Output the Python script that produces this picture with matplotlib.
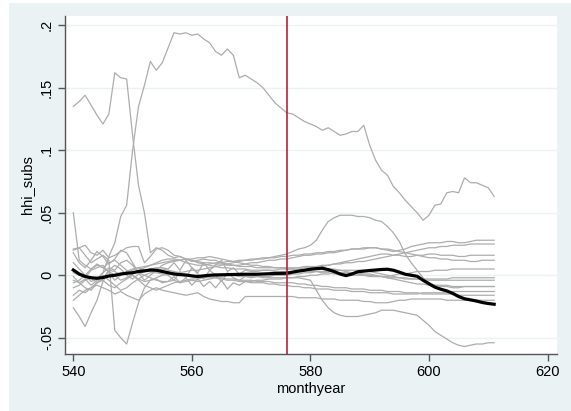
import numpy as np
import matplotlib
matplotlib.use("Agg")
import matplotlib.pyplot as plt
from matplotlib.patches import Rectangle

plt.rcParams['font.family'] = ['Liberation Sans', 'DejaVu Sans']

months = np.arange(540, 612)  # monthyear 540..611

# hhi_subs by group, one list per series (12 months per row)
s_a = [.135, .139, .144, .136, .128, .121, .129, .162, .158, .157, .112, .072,
       .050, .018, .022, .020, .016, .014, .015, .013, .011, .012, .013, .012,
       .012, .010, .009, .008, .008, .009, .010, .010, .011, .012, .012, .013,
       .013, .014, .015, .016, .016, .017, .017, .018, .018, .019, .020, .021,
       .021, .021, .022, .022, .021, .021, .020, .019, .018, .017, .016, .015,
       .014, .014, .013, .013, .012, .012, .012, .011, .011, .012, .012, .012]
s_b = [-.004, -.006, -.003, -.008, -.004, .002, .015, .026, .047, .056, .100, .135,
       .152, .171, .164, .170, .182, .194, .193, .194, .192, .193, .189, .186,
       .179, .176, .181, .176, .158, .160, .157, .154, .150, .144, .138, .134,
       .130, .129, .126, .123, .121, .119, .116, .118, .115, .112, .113, .115,
       .115, .120, .104, .092, .084, .080, .071, .066, .060, .055, .050, .044,
       .048, .056, .057, .066, .067, .066, .078, .074, .074, .072, .070, .063]
s_c = [.050, .012, .008, .005, .009, .006, .003, .000, -.004, -.002, .001, .004,
       .006, .008, .010, .012, .013, .013, .012, .010, .009, .008, .008, .009,
       .010, .010, .011, .011, .012, .012, .012, .013, .013, .014, .014, .015,
       .015, .016, .016, .017, .017, .018, .018, .019, .019, .020, .020, .021,
       .021, .022, .022, .022, .021, .020, .019, .020, .021, .023, .024, .025,
       .026, .026, .026, .027, .027, .026, .026, .027, .028, .028, .028, .028]
s_d = [.020, .022, .016, .010, .013, .016, .012, -.044, -.050, -.055, -.038, -.022,
       -.010, -.004, -.003, -.006, -.005, -.004, -.006, -.005, -.004, -.005, -.004, -.003,
       -.002, -.003, -.004, -.004, -.005, -.005, -.006, -.006, -.006, -.007, -.007, -.008,
       -.008, -.009, -.009, -.010, -.010, -.011, -.011, -.011, -.012, -.012, -.012, -.013,
       -.013, -.013, -.014, -.014, -.014, -.014, -.015, -.015, -.015, -.015, -.015, -.014,
       -.014, -.014, -.014, -.014, -.013, -.013, -.013, -.013, -.013, -.013, -.013, -.013]
s_e = [-.026, -.033, -.041, -.030, -.020, -.005, .004, .003, .000, .002, .004, .006,
       .007, .008, .009, .010, .011, .012, .012, .013, .013, .014, .014, .015,
       .014, .013, .012, .011, .010, .009, .008, .008, .007, .007, .006, .006,
       .005, .005, .004, .004, .003, .003, .002, .002, .001, .001, .001, .000,
       .000, .000, -.001, -.001, -.001, -.002, -.002, -.002, -.003, -.003, -.003, -.003,
       -.003, -.003, -.003, -.003, -.002, -.002, -.002, -.002, -.002, -.002, -.002, -.002]
s_f = [.002, .000, -.002, .004, .006, .008, .002, -.004, .000, .003, .005, .006,
       .004, .003, .004, .005, .004, .003, .002, .003, .004, .004, .005, .006,
       .007, .008, .009, .010, .011, .012, .013, .013, .014, .014, .015, .016,
       .017, .019, .021, .022, .024, .028, .036, .043, .046, .048, .048, .048,
       .047, .047, .046, .044, .043, .039, .034, .027, .017, .010, .004, -.002,
       -.006, -.008, -.009, -.009, -.010, -.010, -.009, -.009, -.009, -.009, -.009, -.009]
s_g = [-.006, -.004, .000, .005, .008, .006, .010, .012, .008, .004, .000, -.003,
       -.005, -.004, -.002, .000, .001, .002, .001, .000, -.001, -.002, -.001, .000,
       .001, .001, .000, .000, -.001, -.001, -.001, -.001, -.002, -.002, -.002, -.002,
       -.002, -.002, -.002, -.003, -.004, -.012, -.020, -.026, -.030, -.032, -.033, -.033,
       -.033, -.032, -.031, -.030, -.028, -.028, -.028, -.029, -.030, -.031, -.032, -.036,
       -.040, -.045, -.048, -.051, -.054, -.056, -.057, -.056, -.055, -.055, -.054, -.054]
s_h = [-.020, -.016, -.012, -.010, -.008, -.010, -.012, -.015, -.013, -.016, -.018, -.020,
       -.015, -.012, -.010, -.012, -.013, -.014, -.015, -.016, -.015, -.014, -.017, -.019,
       -.020, -.021, -.021, -.022, -.022, -.017, -.017, -.017, -.017, -.017, -.017, -.017,
       -.017, -.017, -.018, -.018, -.018, -.018, -.019, -.019, -.019, -.020, -.020, -.020,
       -.020, -.021, -.021, -.022, -.022, -.022, -.021, -.020, -.020, -.019, -.019, -.019,
       -.019, -.019, -.019, -.020, -.020, -.020, -.020, -.020, -.020, -.020, -.020, -.020]
s_i = [.021, .022, .024, .018, .016, .020, .014, .016, .019, .022, .023, .023,
       .010, .015, .021, .022, .020, .016, .015, .013, .012, .010, .009, .008,
       .007, .006, .006, .005, .005, .005, .004, .004, .004, .004, .003, .003,
       .003, .003, .003, .004, .005, .006, .007, .008, .009, .010, .011, .012,
       .013, .014, .015, .016, .017, .017, .016, .016, .015, .015, .016, .016,
       .017, .017, .016, .016, .016, .015, .015, .016, .016, .016, .016, .016]
s_j = [.018, .010, .006, .012, .019, .015, .009, .013, .020, .018, .010, .002,
       -.004, .000, .004, .008, .010, .011, .012, .013, .012, .011, .010, .010,
       .009, .009, .008, .008, .007, .007, .007, .006, .006, .006, .006, .006,
       .006, .006, .006, .007, .007, .007, .008, .008, .009, .009, .010, .010,
       .011, .011, .012, .013, .014, .015, .016, .017, .018, .019, .020, .021,
       .022, .022, .023, .023, .024, .024, .024, .025, .025, .025, .025, .025]
s_k = [-.016, -.012, -.014, -.010, -.006, -.004, -.008, -.010, -.006, -.003, .000, -.004,
       -.008, -.010, -.012, -.010, -.008, -.006, -.005, -.004, -.003, -.003, -.002, -.002,
       -.002, -.002, -.003, -.003, -.004, -.004, -.004, -.005, -.005, -.005, -.006, -.006,
       -.006, -.006, -.007, -.007, -.008, -.008, -.009, -.009, -.010, -.010, -.010, -.011,
       -.011, -.011, -.012, -.012, -.012, -.013, -.013, -.013, -.014, -.014, -.014, -.015,
       -.015, -.015, -.015, -.015, -.015, -.016, -.016, -.016, -.016, -.016, -.016, -.016]
s_l = [-.010, -.008, -.004, -.002, -.006, -.003, .004, .008, .005, .000, -.003, .001,
       .003, .005, .006, .006, .005, .010, .004, .012, .006, .002, .010, .004,
       .008, .012, .003, .006, .001, .004, .003, .003, .004, .004, .004, .005,
       .005, .005, .005, .006, .006, .006, .006, .005, .005, .004, .003, .002,
       .001, .000, .000, -.001, -.001, -.001, .000, .001, .001, .002, .003, .003,
       .003, .004, .004, .004, .005, .005, .005, .005, .005, .005, .005, .005]
s_m = [.010, .005, .000, -.005, -.003, .002, .006, .004, .010, .012, .008, .002,
       .000, -.002, -.004, -.005, -.005, -.001, -.006, -.002, -.008, -.003, -.009, -.005,
       -.010, -.004, -.011, -.006, -.008, -.005, -.005, -.004, -.004, -.003, -.003, -.003,
       -.002, -.002, -.001, -.001, .000, .000, .001, .001, .002, .002, .002, .002,
       .002, .001, .001, .000, -.001, -.002, -.003, -.004, -.005, -.006, -.007, -.007,
       -.008, -.008, -.008, -.008, -.009, -.009, -.009, -.009, -.009, -.009, -.009, -.009]
s_n = [-.001, -.006, -.010, -.012, -.006, .000, -.004, -.008, -.012, -.010, -.006, -.003,
       .000, .002, .002, .001, .000, -.004, .003, -.002, .006, .001, -.003, .004,
       .000, -.005, .002, -.002, -.004, -.001, -.002, -.001, -.001, -.001, .000, .000,
       .000, .001, .001, .002, .002, .003, .003, .003, .004, .004, .004, .004,
       .004, .004, .003, .002, .001, .000, -.001, -.002, -.002, -.003, -.003, -.003,
       -.004, -.004, -.004, -.004, -.004, -.004, -.004, -.004, -.004, -.004, -.004, -.004]

# highlighted series
s_mean = [.0042, .001, -.001, -.002, -.0024, -.0018, -.0006, .000, .001, .0016, .002, .003,
          .0035, .0042, .004, .003, .002, .001, .0005, .0002, -.0005, -.001, -.0005, .000,
          .0002, .0003, .0005, .0006, .0007, .0008, .0008, .0008, .001, .0012, .0014, .0015,
          .0016, .0025, .0033, .004, .0048, .0053, .0056, .0045, .003, .001, -.0003, .001,
          .0028, .0033, .0038, .0042, .0046, .0048, .004, .0025, .0008, .000, -.0008, -.004,
          -.0068, -.0095, -.0112, -.0125, -.0145, -.017, -.0188, -.0197, -.0206, -.0218, -.0226, -.0232]

gray_series = [s_a, s_b, s_c, s_d, s_e, s_f, s_g, s_h, s_i, s_j, s_k, s_l, s_m, s_n]

event_month = 576
yticks = [-.05, 0, .05, .1, .15, .2]
ytick_labels = ['-.05', '0', '.05', '.1', '.15', '.2']
xticks = [540, 560, 580, 600, 620]

W, H = 571, 411
fig = plt.figure(figsize=(W / 100, H / 100), dpi=100, facecolor='white')
bg = Rectangle((9 / W, 0), 1 - 9 / W, 1 - 3 / H, transform=fig.transFigure,
               facecolor='#eaf2f3', edgecolor='none', zorder=-5)
fig.add_artist(bg)

ax = fig.add_axes([65 / W, 1 - 354 / H, (557 - 65) / W, (354 - 16) / H])
ax.set_facecolor('white')

for s in gray_series:
    ax.plot(months, s, color='#adadad', lw=0.9, zorder=2)
ax.plot(months, s_mean, color='black', lw=2.3, zorder=3)
ax.axvline(event_month, color='#b8203f', lw=1.2, zorder=4)

ax.set_xlim(538.6, 621.6)
ax.set_ylim(-0.063, 0.2074)
ax.set_xticks(xticks)
ax.set_yticks(yticks)
ax.set_yticklabels(ytick_labels, rotation=90, va='center')
ax.grid(axis='y', color='#eaf2f3', lw=1.0, zorder=1)
ax.set_axisbelow(True)

for side in ['top', 'right']:
    ax.spines[side].set_visible(False)
for side in ['left', 'bottom']:
    ax.spines[side].set_color('#555555')
    ax.spines[side].set_linewidth(1.0)
ax.tick_params(axis='both', length=5, width=1, color='#555555', labelsize=10.5, pad=3)

ax.set_xlabel('monthyear', fontsize=10.5, labelpad=2)
ax.set_ylabel('hhi_subs', fontsize=10.5, labelpad=4)

fig.savefig('out.png', dpi=100, facecolor=fig.get_facecolor())
